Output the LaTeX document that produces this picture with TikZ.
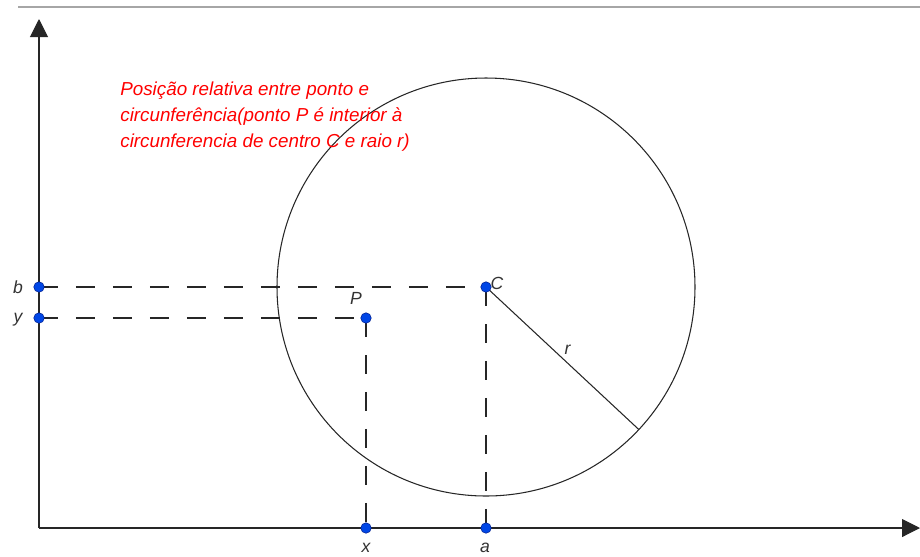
\documentclass[tikz,border=0pt]{standalone}
\usepackage{fontspec}
\setmainfont{Liberation Sans}
\usepackage{xcolor}
\usetikzlibrary{arrows.meta, positioning, calc}

\definecolor{ptblue}{RGB}{0,70,230}
\definecolor{ptedge}{RGB}{0,30,140}

\begin{document}
\begin{tikzpicture}[
    x=0.02cm, y=-0.02cm,
    axis/.style={line width=0.6pt, draw=black!85, -{Triangle[length=0.36cm, width=0.36cm]}},
    guide/.style={line width=0.6pt, draw=black!85, dash pattern=on 0.38cm off 0.36cm},
    pt/.style={circle, fill=ptblue, draw=ptedge, line width=0.3pt, inner sep=0pt, minimum size=0.21cm},
    lbl/.style={font=\itshape\fontsize{10}{11}\selectfont, text=black!80, inner sep=1pt},
    note/.style={font=\itshape\fontsize{10.7}{14.8}\selectfont, text=red, align=left, anchor=north west, inner sep=0pt}
]
    \useasboundingbox (0,0) rectangle (920,556);

    % faixa cinzenta no topo
    \draw[gray!70, line width=0.8pt] (18,7) -- (920,7);

    % eixos
    \coordinate (O) at (39,528);
    \coordinate (xend) at (920,528);
    \coordinate (yend) at (39,19);
    \draw[axis] (O) -- (xend);
    \draw[axis] (O) -- (yend);

    % circunferencia de centro C e raio r
    \coordinate (C) at (486,287);
    \coordinate (R) at ($(C)+(-43:209*0.02cm)$);
    \draw[line width=0.6pt, black!85] (C) circle[radius=209*0.02cm];
    \draw[line width=0.6pt, black!85] (C) -- node[lbl, above right=1pt and 0pt, pos=0.5] {r} (R);

    % pontos
    \coordinate (P) at (366,318);
    \coordinate (Pb) at (39,287);
    \coordinate (Py) at (39,318);
    \coordinate (Px) at (366,528);
    \coordinate (Pa) at (486,528);

    % linhas tracejadas
    \draw[guide] (Pb) -- (C);
    \draw[guide] (Py) -- (P);
    \draw[guide] (P) -- (Px);
    \draw[guide] (C) -- (Pa);

    \node[pt] (nC) at (C) {};
    \node[pt] (nP) at (P) {};
    \node[pt] (nb) at (Pb) {};
    \node[pt] (ny) at (Py) {};
    \node[pt] (nx) at (Px) {};
    \node[pt] (na) at (Pa) {};

    % rotulos
    \node[lbl] (tb) at (18,287) {b};
    \node[lbl] (ty) at (18,320) {y};
    \node[lbl] (tP) at (356,298) {P};
    \node[lbl] (tC) at (497,283) {C};
    \node[lbl] (tx) at (366,548) {x};
    \node[lbl] (ta) at (485,548) {a};

    % texto explicativo
    \node[note] (info) at (120,82) {Posição relativa entre ponto e\\circunferência(ponto P é interior à\\circunferencia de centro C e raio r)};
\end{tikzpicture}
\end{document}
